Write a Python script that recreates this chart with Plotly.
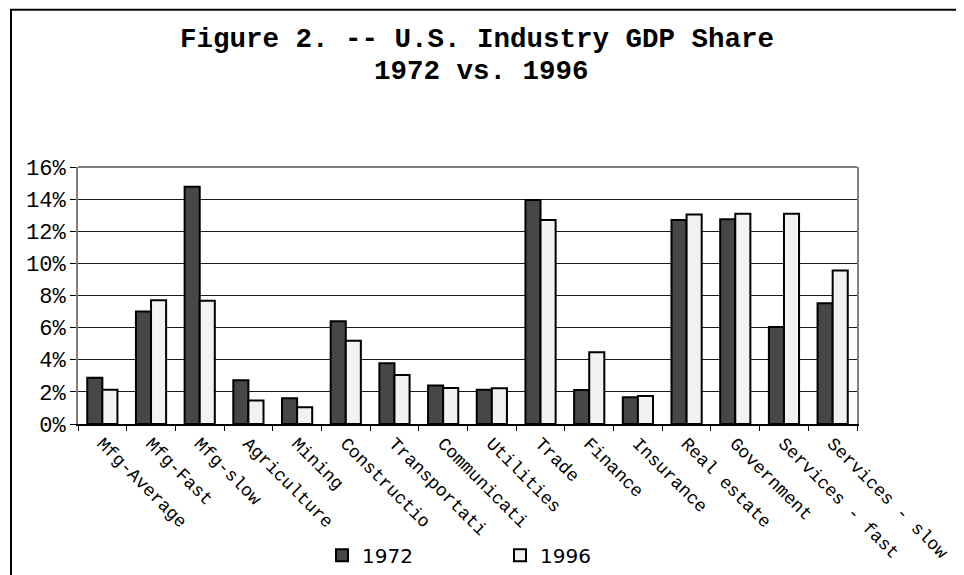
import plotly.graph_objects as go

categories = ["Mfg-Average", "Mfg-Fast", "Mfg-slow", "Agriculture", "Mining",
              "Constructio", "Transportati", "Communicati", "Utilities", "Trade",
              "Finance", "Insurance", "Real estate", "Government",
              "Services - fast", "Services - slow"]
share_1972 = [2.88, 7.01, 14.77, 2.72, 1.60, 6.39, 3.78, 2.39, 2.14, 13.94,
              2.12, 1.66, 12.70, 12.74, 6.04, 7.51]
share_1996 = [2.14, 7.70, 7.68, 1.47, 1.04, 5.19, 3.05, 2.24, 2.22, 12.70,
              4.46, 1.74, 13.05, 13.09, 13.09, 9.56]
y_ticks = [0, 2, 4, 6, 8, 10, 12, 14, 16]
y_tick_labels = ["0%", "2%", "4%", "6%", "8%", "10%", "12%", "14%", "16%"]

W, H = 964, 575
L, R, T, B = 70, 849, 158.7, 415.7
pw, ph = R - L, B - T

def px_x(x):
    return (x - L) / pw

def px_y(y):
    return (B - y) / ph

fig = go.Figure()
fig.add_trace(go.Bar(x=categories, y=share_1972, name="1972",
                     marker=dict(color="#474747", line=dict(color="black", width=2))))
fig.add_trace(go.Bar(x=categories, y=share_1996, name="1996",
                     marker=dict(color="#f2f2f2", line=dict(color="black", width=2))))

mono = "Liberation Mono, Courier New, monospace"

fig.update_layout(
    width=W, height=H,
    margin=dict(l=L, r=W - R, t=T, b=H - B, autoexpand=False),
    paper_bgcolor="white", plot_bgcolor="white",
    barmode="group", bargap=0.38, bargroupgap=0.0,
    showlegend=True,
    legend=dict(orientation="h", x=px_x(314), xanchor="left", y=px_y(547), yanchor="middle",
                font=dict(family="DejaVu Sans, sans-serif", size=20, color="black"),
                entrywidth=133, entrywidthmode="pixels", itemwidth=30,
                bgcolor="rgba(0,0,0,0)", traceorder="normal"),
    xaxis=dict(type="category", tickangle=45, tickson="boundaries",
               ticks="outside", ticklen=5, tickcolor="black", tickwidth=1,
               showline=True, linecolor="black", linewidth=1.5,
               tickfont=dict(family=mono, size=18, color="black"),
               showgrid=False, zeroline=False),
    yaxis=dict(range=[0, 16], tickmode="array", tickvals=y_ticks, ticktext=y_tick_labels,
               ticks="outside", ticklen=6, tickcolor="black", tickwidth=1,
               showline=True, linecolor="#808080", linewidth=2, mirror=True,
               showgrid=True, gridcolor="#1a1a1a", gridwidth=1,
               tickfont=dict(family=mono, size=22, color="black"),
               zeroline=False),
    annotations=[
        dict(text="<b>Figure 2. -- U.S. Industry GDP Share</b>", xref="paper", yref="paper",
             x=px_x(469), y=px_y(31), xanchor="center", yanchor="middle", showarrow=False,
             font=dict(family=mono, size=27.5, color="black")),
        dict(text="<b>1972 vs. 1996</b>", xref="paper", yref="paper",
             x=px_x(473), y=px_y(63), xanchor="center", yanchor="middle", showarrow=False,
             font=dict(family=mono, size=27.5, color="black")),
    ],
    shapes=[
        dict(type="line", xref="paper", yref="paper", x0=0, x1=1, y0=1, y1=1,
             line=dict(color="#808080", width=2)),
        dict(type="rect", xref="paper", yref="paper",
             x0=px_x(3), x1=px_x(975), y0=px_y(1.5), y1=px_y(573.5),
             line=dict(color="black", width=2), fillcolor="rgba(0,0,0,0)"),
    ],
)

fig.write_html("out.html")
